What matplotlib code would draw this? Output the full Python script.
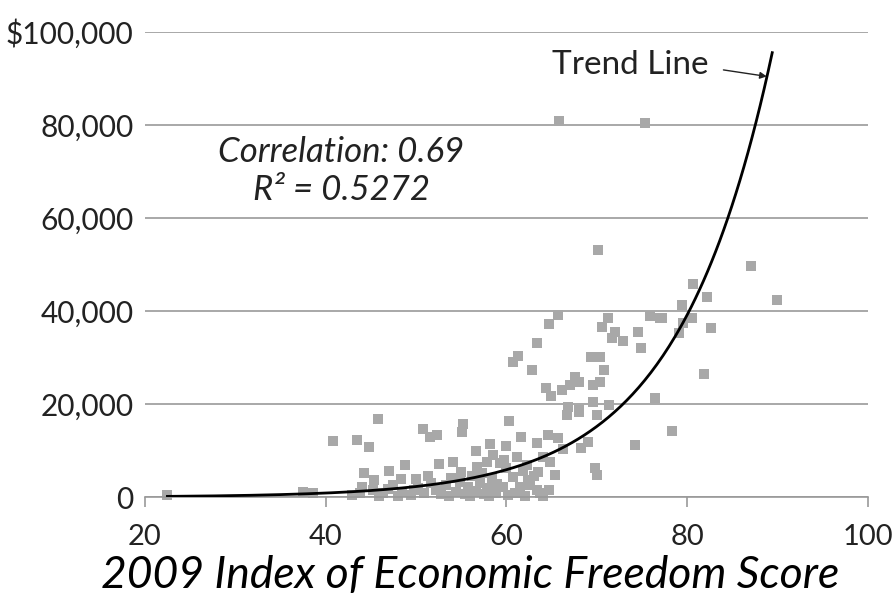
import numpy as np
import matplotlib
matplotlib.use("Agg")
import matplotlib.pyplot as plt

# index of economic freedom score vs GDP per capita
score = [65.8, 75.3, 70.1, 87.1, 89.9,
         80.6, 82.2, 79.4, 77.2, 79.5, 80.5, 79.1, 82.6, 81.9, 78.3,
         65.7, 64.7, 71.2, 70.6, 72.0, 71.7, 72.9, 74.5, 75.9, 77.0, 74.9, 63.4, 61.3, 60.7, 62.8,
         69.4, 70.3, 70.8, 67.6, 68.0, 67.0, 66.1, 64.4, 64.9, 69.6, 70.4, 69.6, 66.8, 68.0, 71.3, 76.4,
         66.7, 68.0, 70.0, 60.3, 61.6, 60.0, 63.4, 64.6, 65.7, 66.2, 68.3, 69.0, 74.2,
         65.4, 69.8, 70.0,
         45.8, 40.8, 43.5, 44.8, 50.8, 51.5, 52.3, 55.2, 55.1, 56.6, 58.2, 48.8, 44.2, 47.0,
         52.5, 54.1, 56.7, 57.8, 59.3, 51.3, 48.3, 45.4, 42.9, 45.2, 22.5, 37.5, 38.6,
         61.2, 62.3, 64.0, 64.8, 63.5, 60.7, 62.4, 63.4, 63.7, 59.6, 61.5, 62.6,
         44.0, 46.3, 47.5, 48.5, 49.4, 50.2, 50.9, 51.6, 52.2, 52.8, 53.3, 53.9, 54.4, 54.9,
         55.4, 55.8, 56.2, 56.6, 57.1, 57.5, 57.9, 58.4, 58.8, 59.0, 53.6, 55.0, 57.3, 50.0,
         46.9, 49.8, 56.0, 58.1, 60.2, 61.0, 62.0, 64.0, 64.7, 63.0, 61.8, 60.0, 59.7, 58.5,
         48.0, 45.9, 43.8]
gdp = [80900, 80400, 53100, 49700, 42400,
       45800, 43000, 41300, 38500, 37400, 38500, 35300, 36300, 26500, 14300,
       39100, 37200, 38500, 36600, 35500, 34200, 33500, 35500, 38900, 38500, 32000, 33100, 30300, 29000, 27300,
       30100, 30100, 27300, 25800, 24700, 24100, 23000, 23400, 21700, 24100, 24700, 20400, 19400, 18700, 19800, 21300,
       17600, 18300, 17600, 16300, 12900, 11000, 11600, 13300, 12700, 10300, 10500, 11800, 11200,
       4700, 6200, 4700,
       16800, 12000, 12300, 10800, 14600, 12900, 13300, 15700, 14000, 9900, 11400, 6900, 5200, 5600,
       7100, 7500, 6500, 7500, 7300, 4500, 3900, 3700, 400, 1500, 500, 1100, 1000,
       8600, 6900, 8600, 7500, 5400, 4300, 3700, 1500, 900, 2200, 2200, 2600,
       2200, 800, 2600, 1200, 500, 2000, 800, 3000, 1500, 600, 2700, 4200, 1200, 3300,
       700, 2200, 4500, 1400, 3000, 600, 2000, 4200, 1000, 2800, 300, 5500, 5200, 3800,
       1700, 1600, 300, 300, 500, 1000, 300, 300, 1500, 4600, 5600, 6200, 8000, 9000,
       300, 200, 900]

# exponential trend line y = a * exp(b * x)
trend_a = 20.1
trend_b = 0.0947
trend_start, trend_end = 22.5, 89.4

yticks = [0, 20000, 40000, 60000, 80000, 100000]
ytick_labels = ["0", "20,000", "40,000", "60,000", "80,000", "$100,000"]
xticks = [20, 40, 60, 80, 100]

plt.rcParams['font.family'] = ['Lato', 'DejaVu Sans']

fig = plt.figure(figsize=(8.94, 5.99), dpi=100)
ax = fig.add_axes([0.162, 0.170, 0.809, 0.777])

ax.scatter(score, gdp, marker='s', s=55, color='#a8a8a8', linewidths=0, zorder=2, clip_on=False)

xs = np.linspace(trend_start, trend_end, 300)
ax.plot(xs, trend_a * np.exp(trend_b * xs), color='black', lw=2, zorder=3)

ax.set_xlim(20, 100)
ax.set_ylim(0, 100000)
ax.set_yticks(yticks)
ax.set_yticklabels(ytick_labels)
ax.set_xticks(xticks)
ax.yaxis.grid(True, color='#999999', lw=1.2)
ax.set_axisbelow(True)
for s in ['left', 'right', 'top']:
    ax.spines[s].set_visible(False)
ax.spines['bottom'].set_color('#999999')
ax.spines['bottom'].set_linewidth(1.2)
ax.tick_params(axis='y', length=0, pad=8, labelsize=21.5, labelcolor='#222222')
ax.tick_params(axis='x', length=7, width=1.2, color='#999999', pad=12, labelsize=21, labelcolor='#222222')

ax.set_xlabel("2009 Index of Economic Freedom Score", fontsize=32, style='italic', labelpad=7)
ax.xaxis.set_label_coords(0.45, -0.125)

ax.text(41.7, 74200, "Correlation: 0.69", fontsize=25, style='italic', ha='center', va='center', color='#222222')
ax.text(41.7, 66000, "R² = 0.5272", fontsize=25, style='italic', ha='center', va='center', color='#222222')

ax.text(73.7, 92900, "Trend Line", fontsize=24, ha='center', va='center', color='#222222')
ax.annotate("", xy=(88.8, 90400), xytext=(84.0, 91800),
            arrowprops=dict(arrowstyle='-|>', color='#222222', lw=1, shrinkA=0, shrinkB=0, mutation_scale=10))

fig.savefig("out.png", dpi=100)
